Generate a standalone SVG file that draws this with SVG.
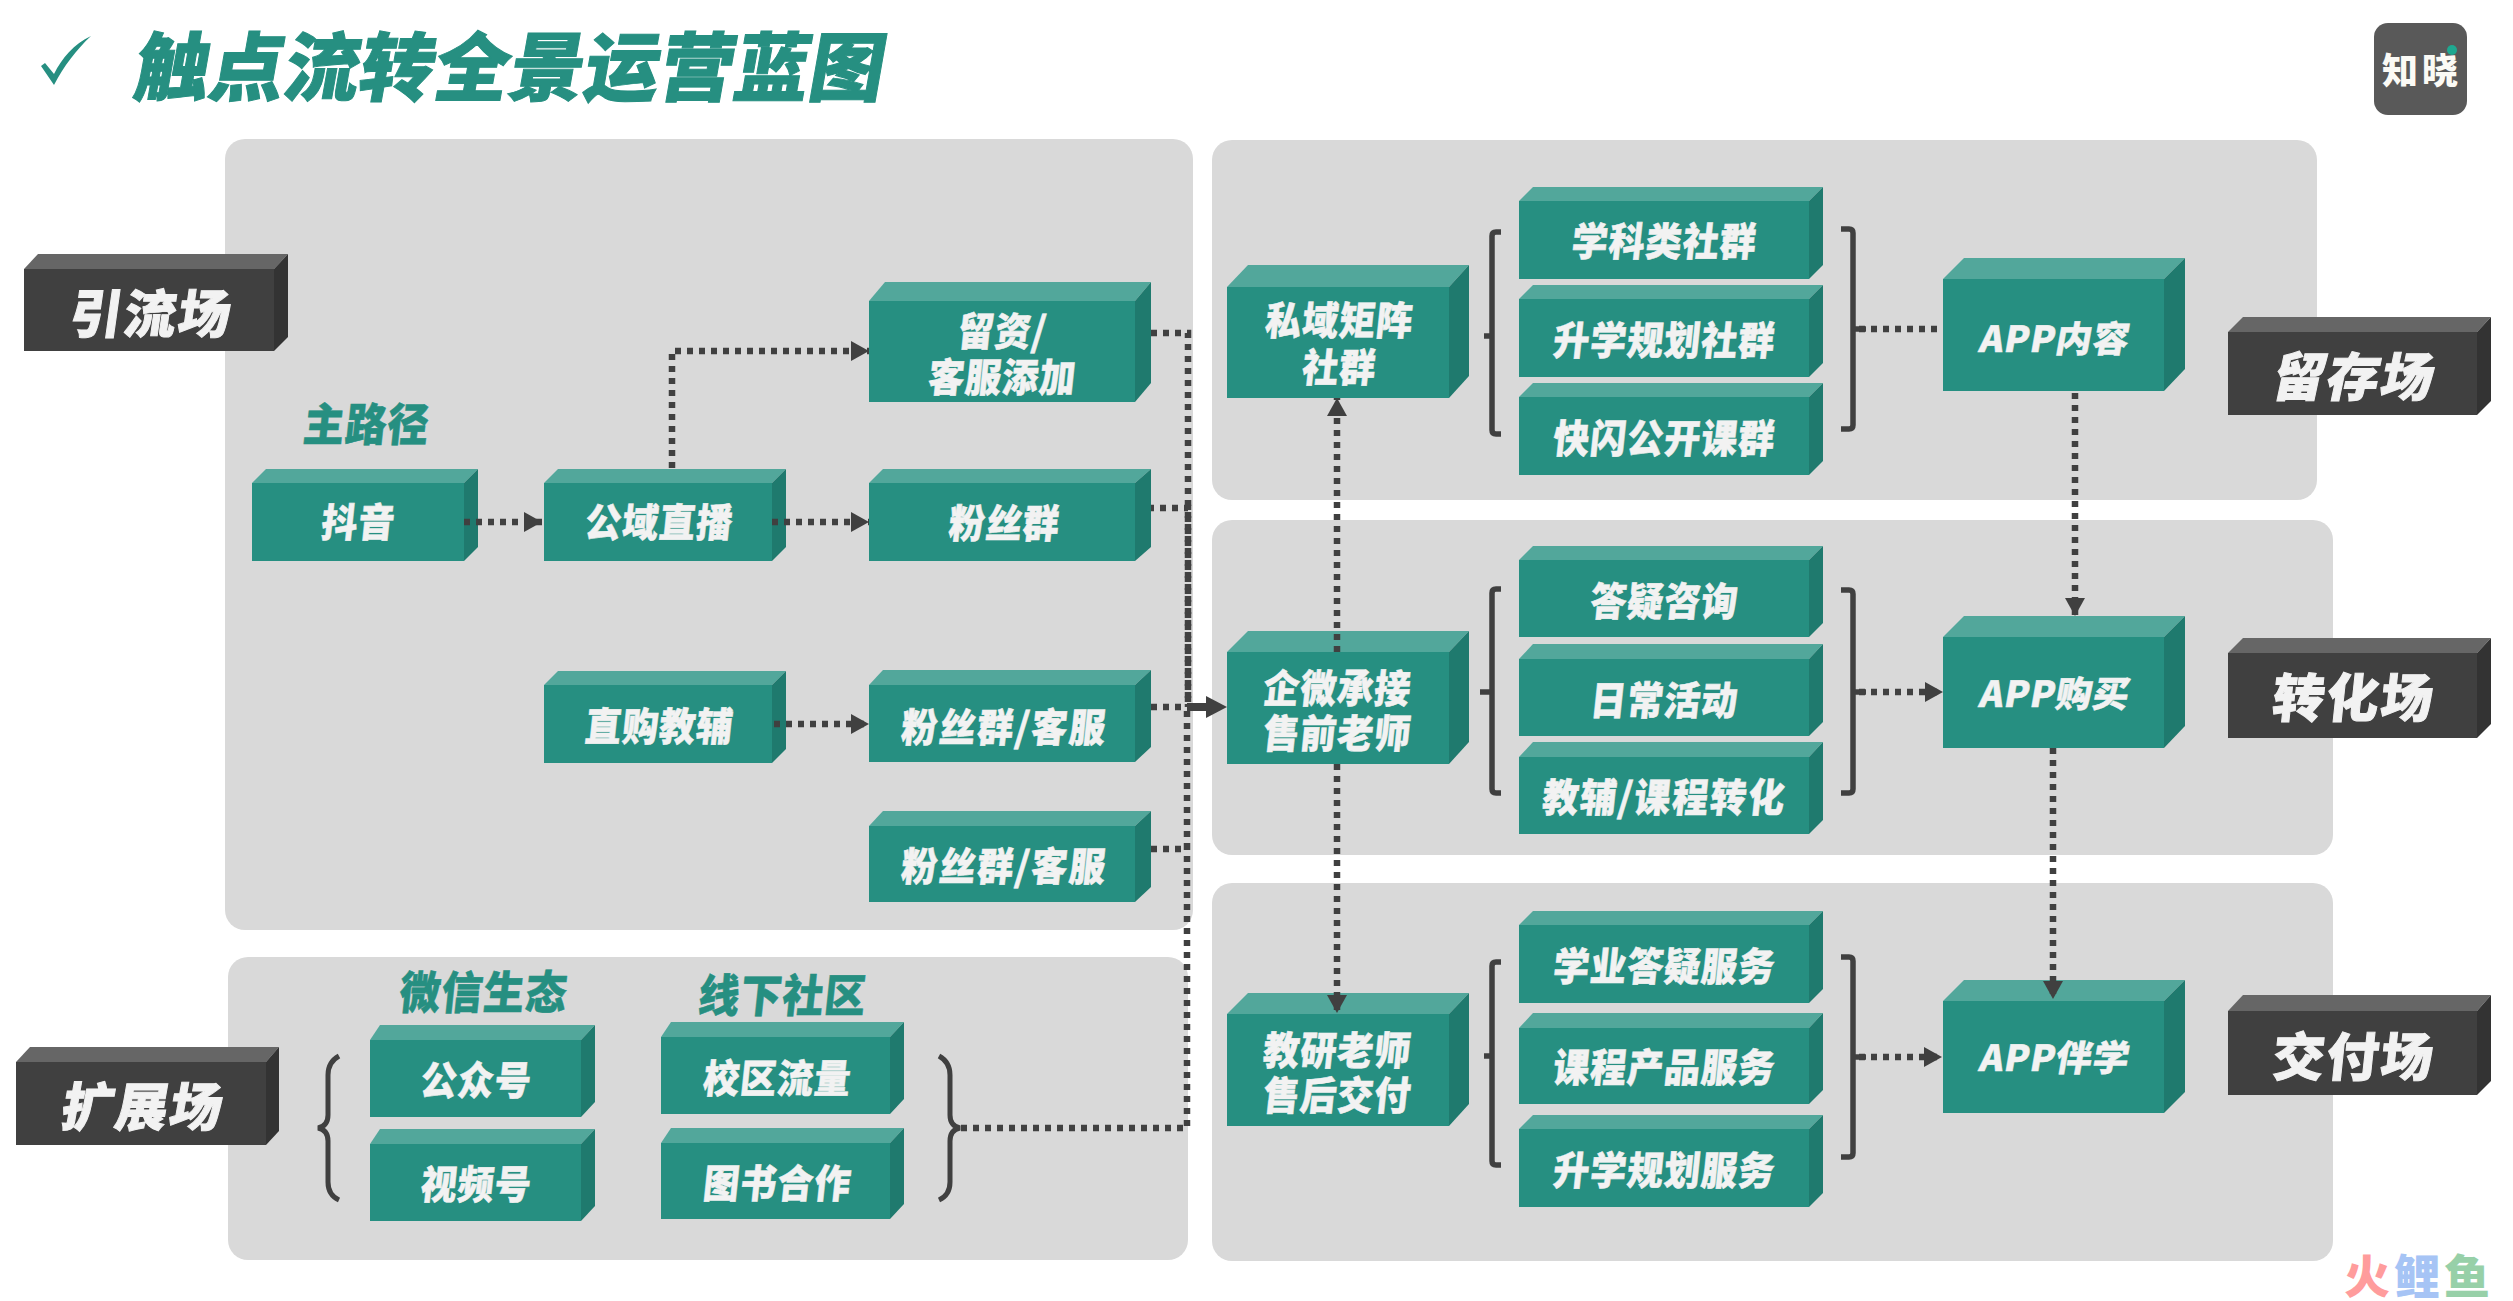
<svg xmlns="http://www.w3.org/2000/svg" width="2513" height="1301" viewBox="0 0 2513 1301">
<style>
text{font-family:"Noto Sans CJK SC","Noto Sans",sans-serif;font-weight:900;text-anchor:middle}
.p{fill:#d9d9d9}
.f{fill:#268f81}.t{fill:#52a79b}.s{fill:#1f7a6e}
.df{fill:#404040}.dt{fill:#666666}.ds{fill:#333333}
.n{fill:#f2f2f2;font-size:36px;letter-spacing:1px;stroke:#f2f2f2;stroke-width:.5px}
.w{letter-spacing:2px}
.l{fill:#f2f2f2;font-size:52px;letter-spacing:2px;stroke:#f2f2f2;stroke-width:1px}
.h{fill:#268f81;font-size:41px;letter-spacing:1px;stroke:#268f81;stroke-width:.5px}
.d{fill:none;stroke:#404040;stroke-width:6.5;stroke-dasharray:6 6}
.b{fill:none;stroke:#404040;stroke-width:5.5}
.a{fill:#404040}
</style>
<defs>
<marker id="ah" markerUnits="userSpaceOnUse" markerWidth="18" markerHeight="20" refX="18" refY="10" orient="auto"><path class="a" d="M0 0L18 10L0 20Z"/></marker>
</defs>
<rect width="2513" height="1301" fill="#ffffff"/>
<g id="panels">
<rect class="p" x="225" y="139" width="968" height="791" rx="20"/>
<rect class="p" x="228" y="957" width="960" height="303" rx="20"/>
<rect class="p" x="1212" y="140" width="1105" height="360" rx="20"/>
<rect class="p" x="1212" y="520" width="1121" height="335" rx="20"/>
<rect class="p" x="1212" y="883" width="1121" height="378" rx="20"/>
</g>
<g id="title">
<path fill="#268f81" d="M41 66L45 63L54 74C62 58 74 44 91 36C76 50 64 66 54 85Z"/>
<text transform="translate(131 95) skewX(-10)" style="text-anchor:start;font-size:75px;fill:#268f81;stroke:#268f81;stroke-width:1px">触点流转全景运营蓝图</text>
</g>
<g id="logo">
<rect x="2374" y="23" width="93" height="92" rx="14" fill="#595959"/>
<circle cx="2452" cy="50" r="5" fill="#1fa890"/>
<text x="2422" y="84" style="font-size:36px;fill:#fbfaf5;letter-spacing:4px">知晓</text>
</g>
<g id="label-yinliu"><path class="dt" d="M24 269L38 254H288L274 269Z"/><rect class="df" x="24" y="269" width="250" height="82"/><path class="ds" d="M274 269L288 254V337L274 351Z"/><text class="l" transform="translate(149 333) skewX(-8)">引流场</text></g>
<g id="label-liucun"><path class="dt" d="M2228 332L2243 317H2491L2477 332Z"/><rect class="df" x="2228" y="332" width="249" height="83"/><path class="ds" d="M2477 332L2491 317V401L2477 415Z"/><text class="l" transform="translate(2351 396) skewX(-12)">留存场</text></g>
<g id="label-zhuanhua"><path class="dt" d="M2228 653L2243 638H2491L2477 653Z"/><rect class="df" x="2228" y="653" width="249" height="85"/><path class="ds" d="M2477 653L2491 638V724L2477 738Z"/><text class="l" transform="translate(2352 717) skewX(-6)">转化场</text></g>
<g id="label-jiaofu"><path class="dt" d="M2228 1011L2243 995H2491L2477 1011Z"/><rect class="df" x="2228" y="1011" width="249" height="84"/><path class="ds" d="M2477 1011L2491 995V1081L2477 1095Z"/><text class="l" transform="translate(2352 1076) skewX(-6)">交付场</text></g>
<g id="label-kuozhan"><path class="dt" d="M16 1062L30 1047H279L266 1062Z"/><rect class="df" x="16" y="1062" width="250" height="83"/><path class="ds" d="M266 1062L279 1047V1131L266 1145Z"/><text class="l" transform="translate(140 1126) skewX(-10)">扩展场</text></g>
<g id="headings">
<text class="h" transform="translate(365 441) skewX(-6) scale(1 1.1)">主路径</text>
<text class="h" transform="translate(482 1009) skewX(-6) scale(1 1.1)">微信生态</text>
<text class="h" transform="translate(781 1012) skewX(-6) scale(1 1.1)">线下社区</text>
</g>
<g id="douyin"><path class="t" d="M252 483L266 469H478L464 483Z"/><rect class="f" x="252" y="483" width="212" height="78"/><path class="s" d="M464 483L478 469V547L464 561Z"/><text class="n" transform="translate(357 537) skewX(-6) scale(1 1.1)">抖音</text></g>
<g id="gongyu"><path class="t" d="M544 483L558 469H786L772 483Z"/><rect class="f" x="544" y="483" width="228" height="78"/><path class="s" d="M772 483L786 469V547L772 561Z"/><text class="n" transform="translate(658 537) skewX(-6) scale(1 1.1)">公域直播</text></g>
<g id="liuzi"><path class="t" d="M869 301L885 282H1151L1135 301Z"/><rect class="f" x="869" y="301" width="266" height="101"/><path class="s" d="M1135 301L1151 282V383L1135 402Z"/><text class="n" transform="translate(1001 346) skewX(-6) scale(1 1.1)">留资/</text><text class="n" transform="translate(1001 392) skewX(-6) scale(1 1.1)">客服添加</text></g>
<g id="fensi1"><path class="t" d="M869 483L883 469H1151L1135 483Z"/><rect class="f" x="869" y="483" width="266" height="78"/><path class="s" d="M1135 483L1151 469V547L1135 561Z"/><text class="n" transform="translate(1003 538) skewX(-6) scale(1 1.1)">粉丝群</text></g>
<g id="zhigou"><path class="t" d="M544 685L558 671H786L772 685Z"/><rect class="f" x="544" y="685" width="228" height="78"/><path class="s" d="M772 685L786 671V749L772 763Z"/><text class="n" transform="translate(658 741) skewX(-6) scale(1 1.1)">直购教辅</text></g>
<g id="fensi2"><path class="t" d="M869 685L883 670H1151L1135 685Z"/><rect class="f" x="869" y="685" width="266" height="77"/><path class="s" d="M1135 685L1151 670V747L1135 762Z"/><text class="n w" transform="translate(1003 742) skewX(-6) scale(1 1.1)">粉丝群/客服</text></g>
<g id="fensi3"><path class="t" d="M869 826L883 811H1151L1135 826Z"/><rect class="f" x="869" y="826" width="266" height="76"/><path class="s" d="M1135 826L1151 811V887L1135 902Z"/><text class="n w" transform="translate(1003 881) skewX(-6) scale(1 1.1)">粉丝群/客服</text></g>
<g id="gzh"><path class="t" d="M370 1040L380 1025H595L581 1040Z"/><rect class="f" x="370" y="1040" width="211" height="77"/><path class="s" d="M581 1040L595 1025V1102L581 1117Z"/><text class="n" transform="translate(475 1095) skewX(-6) scale(1 1.1)">公众号</text></g>
<g id="sph"><path class="t" d="M370 1144L380 1129H595L581 1144Z"/><rect class="f" x="370" y="1144" width="211" height="77"/><path class="s" d="M581 1144L595 1129V1206L581 1221Z"/><text class="n" transform="translate(475 1199) skewX(-6) scale(1 1.1)">视频号</text></g>
<g id="xiaoqu"><path class="t" d="M661 1037L671 1022H904L890 1037Z"/><rect class="f" x="661" y="1037" width="229" height="77"/><path class="s" d="M890 1037L904 1022V1099L890 1114Z"/><text class="n" transform="translate(776 1093) skewX(-6) scale(1 1.1)">校区流量</text></g>
<g id="tushu"><path class="t" d="M661 1143L671 1128H904L890 1143Z"/><rect class="f" x="661" y="1143" width="229" height="76"/><path class="s" d="M890 1143L904 1128V1204L890 1219Z"/><text class="n" transform="translate(776 1198) skewX(-6) scale(1 1.1)">图书合作</text></g>
<g id="siyu"><path class="t" d="M1227 287L1248 265H1469L1449 287Z"/><rect class="f" x="1227" y="287" width="222" height="111"/><path class="s" d="M1449 287L1469 265V376L1449 398Z"/><text class="n" transform="translate(1338 335) skewX(-6) scale(1 1.1)">私域矩阵</text><text class="n" transform="translate(1338 382) skewX(-6) scale(1 1.1)">社群</text></g>
<g id="qiwei"><path class="t" d="M1227 652L1248 631H1469L1449 652Z"/><rect class="f" x="1227" y="652" width="222" height="112"/><path class="s" d="M1449 652L1469 631V742L1449 764Z"/><text class="n" transform="translate(1336 703) skewX(-6) scale(1 1.1)">企微承接</text><text class="n" transform="translate(1336 748) skewX(-6) scale(1 1.1)">售前老师</text></g>
<g id="jiaoyan"><path class="t" d="M1227 1014L1248 993H1469L1449 1014Z"/><rect class="f" x="1227" y="1014" width="222" height="112"/><path class="s" d="M1449 1014L1469 993V1104L1449 1126Z"/><text class="n" transform="translate(1336 1065) skewX(-6) scale(1 1.1)">教研老师</text><text class="n" transform="translate(1336 1110) skewX(-6) scale(1 1.1)">售后交付</text></g>
<g id="xueke"><path class="t" d="M1519 201L1533 187H1823L1809 201Z"/><rect class="f" x="1519" y="201" width="290" height="78"/><path class="s" d="M1809 201L1823 187V265L1809 279Z"/><text class="n" transform="translate(1663 256) skewX(-6) scale(1 1.1)">学科类社群</text></g>
<g id="shengxue1"><path class="t" d="M1519 299L1533 285H1823L1809 299Z"/><rect class="f" x="1519" y="299" width="290" height="78"/><path class="s" d="M1809 299L1823 285V363L1809 377Z"/><text class="n" transform="translate(1663 355) skewX(-6) scale(1 1.1)">升学规划社群</text></g>
<g id="kuaishan"><path class="t" d="M1519 397L1533 383H1823L1809 397Z"/><rect class="f" x="1519" y="397" width="290" height="78"/><path class="s" d="M1809 397L1823 383V461L1809 475Z"/><text class="n" transform="translate(1663 453) skewX(-6) scale(1 1.1)">快闪公开课群</text></g>
<g id="dayi"><path class="t" d="M1519 560L1533 546H1823L1809 560Z"/><rect class="f" x="1519" y="560" width="290" height="77"/><path class="s" d="M1809 560L1823 546V623L1809 637Z"/><text class="n" transform="translate(1663 616) skewX(-6) scale(1 1.1)">答疑咨询</text></g>
<g id="richang"><path class="t" d="M1519 659L1533 644H1823L1809 659Z"/><rect class="f" x="1519" y="659" width="290" height="77"/><path class="s" d="M1809 659L1823 644V722L1809 736Z"/><text class="n" transform="translate(1663 715) skewX(-6) scale(1 1.1)">日常活动</text></g>
<g id="jiaofu"><path class="t" d="M1519 757L1533 742H1823L1809 757Z"/><rect class="f" x="1519" y="757" width="290" height="77"/><path class="s" d="M1809 757L1823 742V820L1809 834Z"/><text class="n w" transform="translate(1663 812) skewX(-6) scale(1 1.1)">教辅/课程转化</text></g>
<g id="xueye"><path class="t" d="M1519 925L1533 911H1823L1809 925Z"/><rect class="f" x="1519" y="925" width="290" height="78"/><path class="s" d="M1809 925L1823 911V989L1809 1003Z"/><text class="n" transform="translate(1663 981) skewX(-6) scale(1 1.1)">学业答疑服务</text></g>
<g id="kecheng"><path class="t" d="M1519 1028L1533 1013H1823L1809 1028Z"/><rect class="f" x="1519" y="1028" width="290" height="76"/><path class="s" d="M1809 1028L1823 1013V1090L1809 1104Z"/><text class="n" transform="translate(1663 1082) skewX(-6) scale(1 1.1)">课程产品服务</text></g>
<g id="shengxue2"><path class="t" d="M1519 1129L1533 1115H1823L1809 1129Z"/><rect class="f" x="1519" y="1129" width="290" height="78"/><path class="s" d="M1809 1129L1823 1115V1193L1809 1207Z"/><text class="n" transform="translate(1663 1185) skewX(-6) scale(1 1.1)">升学规划服务</text></g>
<g id="app1"><path class="t" d="M1943 279L1964 258H2185L2164 279Z"/><rect class="f" x="1943" y="279" width="221" height="112"/><path class="s" d="M2164 279L2185 258V369L2164 391Z"/><text class="n" transform="translate(2053 352) skewX(-10)">APP内容</text></g>
<g id="app2"><path class="t" d="M1943 637L1964 616H2185L2164 637Z"/><rect class="f" x="1943" y="637" width="221" height="111"/><path class="s" d="M2164 637L2185 616V726L2164 748Z"/><text class="n" transform="translate(2053 707) skewX(-10)">APP购买</text></g>
<g id="app3"><path class="t" d="M1943 1001L1964 980H2185L2164 1001Z"/><rect class="f" x="1943" y="1001" width="221" height="112"/><path class="s" d="M2164 1001L2185 980V1092L2164 1113Z"/><text class="n" transform="translate(2053 1071) skewX(-10)">APP伴学</text></g>
<g id="connectors">
<path class="d" d="M464 522H542" marker-end="url(#ah)"/>
<path class="d" d="M772 522H869" marker-end="url(#ah)"/>
<path class="d" d="M672 468V351H869" marker-end="url(#ah)"/>
<path class="d" d="M774 724H869" marker-end="url(#ah)"/>
<path class="d" d="M1151 333H1188V707"/>
<path class="d" d="M1151 508H1188V707" stroke-dashoffset="3"/>
<path class="d" d="M1151 707H1188"/>
<path class="d" d="M1151 849H1187V707"/>
<path class="d" d="M961 1128H1187V849"/>
<path fill="none" stroke="#404040" stroke-width="8" d="M1187 707H1210"/>
<path class="a" d="M1206 696L1227 707L1206 718Z"/>
<path class="d" d="M1337 652V398" marker-end="url(#ah)"/>
<path class="d" d="M1337 764V1013" marker-end="url(#ah)"/>
<path class="d" d="M1859 329H1943"/>
<path class="d" d="M1859 692H1943" marker-end="url(#ah)"/>
<path class="d" d="M1859 1057H1942" marker-end="url(#ah)"/>
<path class="d" d="M2075 393V616" marker-end="url(#ah)"/>
<path class="d" d="M2053 748V999" marker-end="url(#ah)"/>
<path class="b" d="M1501 232H1496Q1492 232 1492 236V430Q1492 434 1496 434H1501M1492 336H1484"/>
<path class="b" d="M1501 589H1496Q1492 589 1492 593V789Q1492 793 1496 793H1501M1492 692H1480"/>
<path class="b" d="M1501 962H1496Q1492 962 1492 966V1161Q1492 1165 1496 1165H1501M1492 1056H1484"/>
<path class="b" d="M1841 229H1849Q1853 229 1853 233V425Q1853 429 1849 429H1841M1853 329H1866"/>
<path class="b" d="M1841 590H1849Q1853 590 1853 594V789Q1853 793 1849 793H1841M1853 692H1866"/>
<path class="b" d="M1841 957H1849Q1853 957 1853 961V1153Q1853 1157 1849 1157H1841M1853 1057H1866"/>
<path fill="none" stroke="#404040" stroke-width="5" d="M339 1056Q328 1062 328 1075V1115Q328 1126 318 1128Q328 1130 328 1141V1182Q328 1195 339 1200"/>
<path fill="none" stroke="#404040" stroke-width="5" d="M939 1056Q950 1062 950 1075V1115Q950 1126 960 1128Q950 1130 950 1141V1182Q950 1195 939 1200"/>
</g>
<g id="watermark">
<text x="2367" y="1293" style="font-size:46px;fill:#ff9c9c">火</text>
<text x="2417" y="1293" style="font-size:46px;fill:#a6c4f5">鲤</text>
<text x="2467" y="1293" style="font-size:46px;fill:#97d0a8">鱼</text>
</g>
</svg>
